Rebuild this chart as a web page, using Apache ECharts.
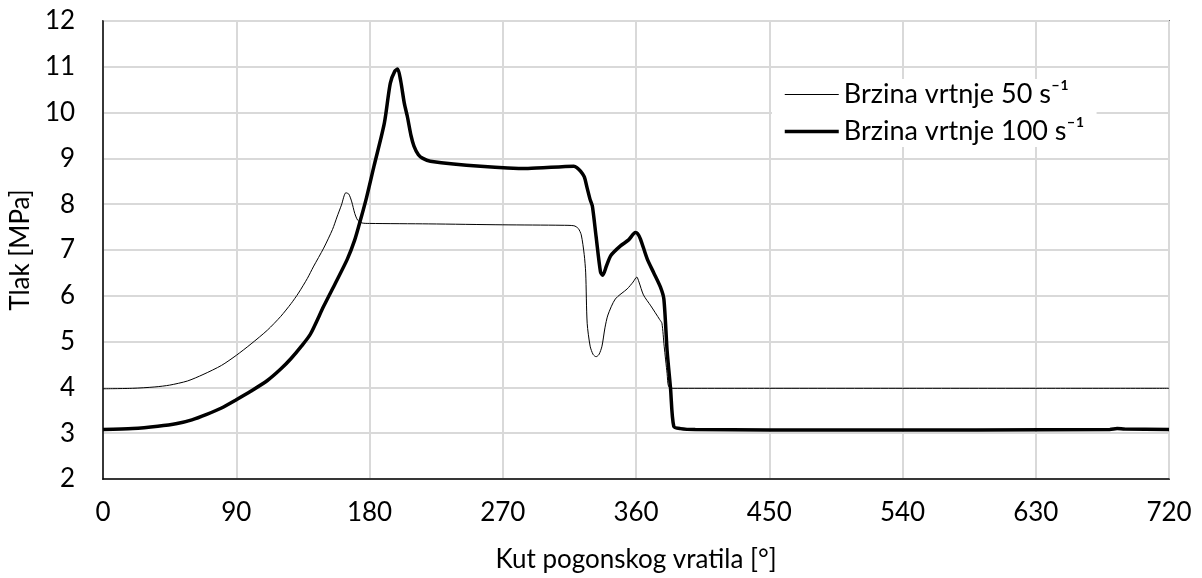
<!DOCTYPE html>
<html>
<head>
<meta charset="utf-8">
<script src="https://cdn.jsdelivr.net/npm/echarts@6/dist/echarts.min.js"></script>
<style>
html,body{margin:0;padding:0;background:#fff;}
#chart{width:1202px;height:578px;}
</style>
</head>
<body>
<div id="chart"></div>
<script>
// Kut pogonskog vratila [°]
const angle50 = [0,20,35,45,57,67.5,80,90,100,111,120,127,132,138,142,149,155,158,161,164,166,168,170,172,175,180,220,270,310,318,321,323,325,326,327,329,331,333,335,337,339,341,346,354,358,360.5,362,365,370,376,377.5,379,381,382,385,450,540,630,720];
const pressure50 = [3.97,3.98,4.01,4.05,4.14,4.28,4.48,4.7,4.95,5.25,5.55,5.83,6.06,6.38,6.63,7.04,7.45,7.72,7.98,8.25,8.22,8.05,7.8,7.65,7.59,7.58,7.57,7.55,7.54,7.53,7.47,7.33,6.9,6.5,5.4,4.9,4.72,4.67,4.72,4.9,5.3,5.58,5.93,6.15,6.3,6.41,6.3,6.02,5.78,5.48,5.4,4.9,4.3,4.02,3.98,3.98,3.98,3.98,3.98];

const angle100 = [0,20,37,50,60,70,80,90,100,111,120,127,134,140,149,157,165,170,174,178,183,190,194,197,199,201,203.5,205.5,208,210,213,216,221,255,287,318,320,322.5,325,327,329,330.5,333,336,337.5,340,343,349.5,355,359.6,361,363,367.6,372,376.5,378.8,381,383.3,385.5,390,400,500,680,685,690,720];
const pressure100 = [3.08,3.1,3.15,3.21,3.29,3.41,3.55,3.73,3.92,4.15,4.4,4.63,4.9,5.16,5.77,6.28,6.8,7.22,7.67,8.15,8.83,9.77,10.64,10.9,10.95,10.7,10.2,9.92,9.5,9.27,9.08,9.0,8.94,8.83,8.78,8.83,8.8,8.72,8.6,8.35,8.1,7.96,7.3,6.52,6.45,6.65,6.88,7.09,7.22,7.38,7.36,7.24,6.8,6.5,6.19,5.93,4.8,3.98,3.15,3.1,3.08,3.07,3.08,3.1,3.09,3.08];

const seriesNames = ['Brzina vrtnje 50 s\u207B\u00B9','Brzina vrtnje 100 s\u207B\u00B9'];
const xTitle = 'Kut pogonskog vratila [°]';
const yTitle = 'Tlak [MPa]';

const FONT = 'Lato';
const chart = echarts.init(document.getElementById('chart'), null, {renderer:'canvas'});
const zip = (a,b) => a.map((v,i)=>[v,b[i]]);

chart.setOption({
  animation:false,
  backgroundColor:'#fff',
  textStyle:{fontFamily:FONT,color:'#000'},
  grid:{left:102,right:33,top:21,bottom:97,show:true,borderColor:'#000',borderWidth:1.5,backgroundColor:'transparent'},
  legend:{
    orient:'vertical',left:772,top:79,
    itemWidth:54,itemHeight:14,itemGap:10,
    backgroundColor:'#fff',padding:[2,12,2,11],
    itemStyle:{opacity:0},
    textStyle:{fontFamily:FONT,fontSize:27,color:'#000'},
    data:[
      {name:seriesNames[0],lineStyle:{width:1,color:'#000'}},
      {name:seriesNames[1],lineStyle:{width:3.5,color:'#000'}}
    ]
  },
  xAxis:{
    type:'value',min:0,max:720,interval:90,
    name:xTitle,nameLocation:'middle',nameGap:68,
    nameTextStyle:{fontFamily:FONT,fontSize:26,color:'#000'},
    axisLine:{show:true,lineStyle:{color:'#000',width:1.5}},
    axisTick:{show:false},
    axisLabel:{fontFamily:FONT,fontSize:26,color:'#000',margin:21},
    splitLine:{show:true,lineStyle:{color:'#d9d9d9',width:2}}
  },
  yAxis:{
    type:'value',min:2,max:12,interval:1,
    name:yTitle,nameLocation:'middle',nameGap:53,
    nameTextStyle:{fontFamily:FONT,fontSize:26,color:'#000'},
    axisLine:{show:true,lineStyle:{color:'#000',width:1.5}},
    axisTick:{show:false},
    axisLabel:{fontFamily:FONT,fontSize:26,color:'#000',margin:28},
    splitLine:{show:true,lineStyle:{color:'#d9d9d9',width:2}}
  },
  series:[
    {name:seriesNames[0],type:'line',data:zip(angle50,pressure50),symbol:'none',smooth:0.25,
     lineStyle:{color:'#000',width:1},itemStyle:{color:'#000'},z:3},
    {name:seriesNames[1],type:'line',data:zip(angle100,pressure100),symbol:'none',smooth:0.25,
     lineStyle:{color:'#000',width:3.5},itemStyle:{color:'#000'},z:4}
  ]
});
</script>
</body>
</html>
